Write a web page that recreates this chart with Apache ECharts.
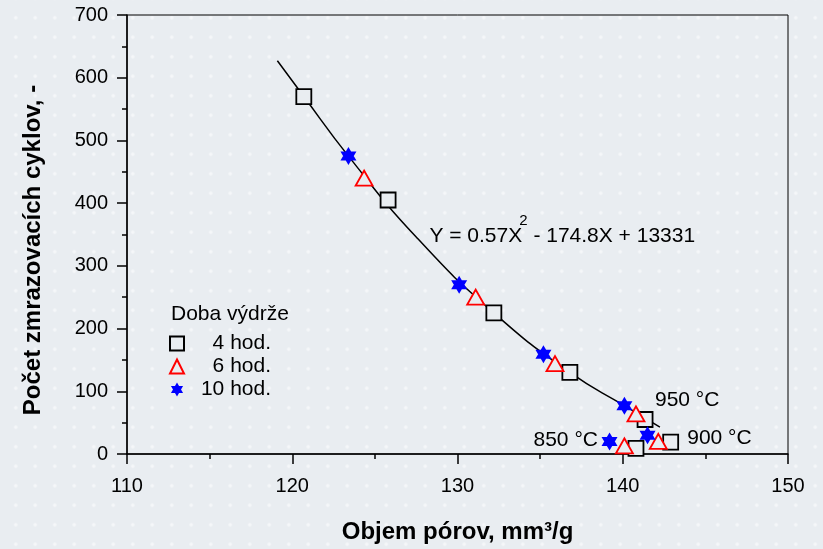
<!DOCTYPE html>
<html>
<head>
<meta charset="utf-8">
<script src="https://cdn.jsdelivr.net/npm/echarts@6/dist/echarts.min.js"></script>
<style>
  html, body { margin: 0; padding: 0; }
  body {
    width: 823px; height: 549px; overflow: hidden;
    background-color: #e9edf1;
    background-image: radial-gradient(circle, rgba(255,255,255,0.55) 1.2px, rgba(255,255,255,0) 2.2px);
    background-size: 19.5px 19.5px;
    background-position: 6px 8px;
  }
  #chart { width: 823px; height: 549px; }
</style>
</head>
<body>
<div id="chart"></div>
<script>
// Pore volume (mm³/g) vs. number of freeze–thaw cycles, by holding time
const poreVol4h  = [120.7, 125.8, 132.2, 136.8, 141.35, 140.8, 142.9];
const cycles4h   = [570, 405, 225, 130, 55, 9, 19];
const poreVol6h  = [124.35, 131.1, 135.9, 140.8, 140.1, 142.15];
const cycles6h   = [440, 250, 144, 64, 13, 20];
const poreVol10h = [123.4, 130.1, 135.2, 140.1, 139.2, 141.5];
const cycles10h  = [475, 270, 159, 77, 20, 30];

// Regression curve traced along the fit
const fitX = [119.1, 120.7, 123.4, 127.5, 132.2, 136.8, 140.1, 142.25];
const fitY = [627, 570, 475, 346, 225, 130, 77, 43];

const seriesNames = ['4 hod.', '6 hod.', '10 hod.'];
const legendTitle = 'Doba výdrže';
const xTitle = 'Objem pórov, mm³/g';
const yTitle = 'Počet zmrazovacích cyklov, -';

// Text notes anchored in data coordinates (left edge, vertical middle)
const notes = [
  { text: '950 °C', x: 141.95, y: 86 },
  { text: '900 °C', x: 143.9, y: 26 },
  { text: '850 °C', x: 134.6, y: 23 }
];
const eqAnchor = { x: 128.3, y: 351 };

const BG = '#e9edf1';
const FONT = 'Liberation Sans, Arial, Helvetica, sans-serif';
const starPath = 'path://M12 0 L22.39 18 L1.61 18 Z M12 24 L1.61 6 L22.39 6 Z';

const zip = (xs, ys) => xs.map((v, i) => [v, ys[i]]);

const chart = echarts.init(document.getElementById('chart'), null, { renderer: 'canvas' });

const axisCommon = {
  axisLine: { show: true, lineStyle: { color: '#000', width: 1.5 } },
  axisTick: { show: true, inside: false, length: 10, lineStyle: { color: '#000', width: 1.5 } },
  minorTick: { show: true, splitNumber: 2, length: 5, lineStyle: { color: '#000', width: 1.5 } },
  splitLine: { show: false },
  nameLocation: 'middle',
  nameTextStyle: { fontFamily: FONT, fontWeight: 'bold', fontSize: 24, color: '#000' }
};

chart.setOption({
  backgroundColor: 'transparent',
  animation: false,
  grid: {
    left: 127, right: 35, top: 15, bottom: 93,
    show: true, borderColor: '#000', borderWidth: 1, backgroundColor: 'transparent'
  },
  xAxis: Object.assign({}, axisCommon, {
    type: 'value', min: 110, max: 150, interval: 10,
    name: xTitle, nameGap: 66,
    axisLabel: { fontFamily: FONT, fontSize: 20, color: '#000', margin: 22 }
  }),
  yAxis: Object.assign({}, axisCommon, {
    type: 'value', min: 0, max: 700, interval: 100,
    axisLabel: { fontFamily: FONT, fontSize: 20, color: '#000', margin: 19 }
  }),
  legend: {
    orient: 'vertical',
    left: 164, top: 328,
    itemWidth: 14, itemHeight: 14, itemGap: 2,
    data: seriesNames,
    formatter: n => '{t|' + n + '}',
    textStyle: {
      rich: { t: { fontFamily: FONT, fontSize: 21, color: '#000', width: 82, align: 'right', lineHeight: 23 } }
    }
  },
  series: [
    {
      type: 'line', name: 'fit', data: zip(fitX, fitY), smooth: 0.5,
      showSymbol: false, symbol: 'none', silent: true, z: 1,
      lineStyle: { color: '#000', width: 1.5 }
    },
    {
      type: 'scatter', name: seriesNames[0], data: zip(poreVol4h, cycles4h), z: 3,
      symbol: 'rect', symbolSize: 15,
      itemStyle: { color: BG, borderColor: '#000', borderWidth: 1.8, opacity: 1 }
    },
    {
      type: 'scatter', name: seriesNames[1], data: zip(poreVol6h, cycles6h), z: 4,
      symbol: 'triangle', symbolSize: [17, 15],
      itemStyle: { color: BG, borderColor: '#ff0000', borderWidth: 1.8, opacity: 1 }
    },
    {
      type: 'scatter', name: seriesNames[2], data: zip(poreVol10h, cycles10h), z: 5,
      symbol: starPath, symbolSize: [16, 18],
      itemStyle: { color: '#0000ff', borderWidth: 0, opacity: 1 }
    }
  ]
});

// Place the notes, the fitted equation, the legend heading and the y title
function px(x, y) { return chart.convertToPixel({ gridIndex: 0 }, [x, y]); }
const graphics = notes.map(n => {
  const p = px(n.x, n.y);
  return {
    type: 'text', left: p[0], top: p[1] - 10, z: 10,
    style: { text: n.text, font: '21px ' + FONT, fill: '#000' }
  };
});
const e = px(eqAnchor.x, eqAnchor.y);
graphics.push({
  type: 'text', left: e[0], top: e[1] - 21, z: 10,
  style: {
    text: '{b|Y = 0.57X}{s|2}{b| - 174.8X + 13331}',
    rich: {
      b: { font: '21px ' + FONT, fill: '#000', lineHeight: 34, verticalAlign: 'bottom' },
      s: { font: '15px ' + FONT, fill: '#000', lineHeight: 34, verticalAlign: 'top', padding: [0, 0, 0, -3] }
    }
  }
});
graphics.push({
  type: 'text', left: 171, top: 304, z: 10,
  style: { text: legendTitle, font: '21px ' + FONT, fill: '#000' }
});
graphics.push({
  type: 'text', x: 33, y: 250, rotation: Math.PI / 2, z: 10,
  style: {
    text: yTitle, font: 'bold 24px ' + FONT, fill: '#000',
    align: 'center', verticalAlign: 'middle'
  }
});
chart.setOption({ graphic: graphics });
</script>
</body>
</html>
